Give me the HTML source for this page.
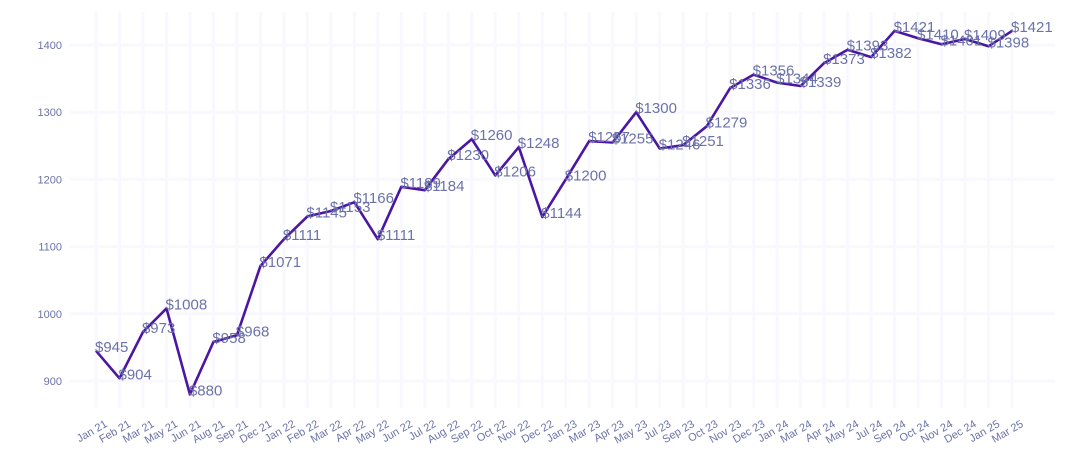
<!DOCTYPE html>
<html><head><meta charset="utf-8"><style>
body{margin:0;background:#fff;}
svg{display:block;font-family:"Liberation Sans",sans-serif;}
</style></head><body>
<svg id="chart" width="1070" height="465" xmlns="http://www.w3.org/2000/svg">
<g id="grid"></g>
<g id="yaxis"></g>
<g id="xaxis"></g>
<g id="series"></g>
</svg>
<script>
const categories=["Jan 21","Feb 21","Mar 21","May 21","Jun 21","Aug 21","Sep 21","Dec 21","Jan 22","Feb 22","Mar 22","Apr 22","May 22","Jun 22","Jul 22","Aug 22","Sep 22","Oct 22","Nov 22","Dec 22","Jan 23","Mar 23","Apr 23","May 23","Jul 23","Sep 23","Oct 23","Nov 23","Dec 23","Jan 24","Mar 24","Apr 24","May 24","Jul 24","Sep 24","Oct 24","Nov 24","Dec 24","Jan 25","Mar 25"];
const values=[945,904,973,1008,880,958,968,1071,1111,1145,1153,1166,1111,1189,1184,1230,1260,1206,1248,1144,1200,1257,1255,1300,1246,1251,1279,1336,1356,1344,1339,1373,1393,1382,1421,1410,1401,1409,1398,1421];
const yTicks=[900,1000,1100,1200,1300,1400];
const NS="http://www.w3.org/2000/svg";
const x0=96,x1=1012;
function xs(i){return x0+(x1-x0)*i/(categories.length-1);}
function ys(v){return 381-(v-900)*0.672;}
function mk(tag,attrs,parent){const e=document.createElementNS(NS,tag);for(const k in attrs)e.setAttribute(k,attrs[k]);parent.appendChild(e);return e;}
const grid=document.getElementById('grid'),ya=document.getElementById('yaxis'),xa=document.getElementById('xaxis'),se=document.getElementById('series');
yTicks.forEach(t=>{
  const l=mk('line',{x1:70,x2:1055,y1:ys(t),y2:ys(t),stroke:'#f8f8fe','stroke-width':3},grid);
  
  
  const tx=mk('text',{x:62,y:ys(t)+4,'text-anchor':'end','font-size':11,fill:'#6b72a8'},ya);
  tx.textContent=t;
  
  
});
categories.forEach((c,i)=>{
  const l=mk('line',{x1:xs(i),x2:xs(i),y1:12,y2:408,stroke:'#f8f8fe','stroke-width':3},grid);
  
  
  const tx=mk('text',{x:0,y:0,'text-anchor':'end','font-size':11,fill:'#6b72a8',transform:`translate(${xs(i)+12},${426}) rotate(-30)`},xa);
  tx.textContent=c;
  
  
});
const d=values.map((v,i)=>(i?'L':'M')+xs(i).toFixed(1)+','+ys(v).toFixed(1)).join(' ');
const p=mk('path',{d:d,fill:'none',stroke:'#4a16a2','stroke-width':2.6,'stroke-linejoin':'round'},se);


values.forEach((v,i)=>{
  const t=mk('text',{x:xs(i)-1,y:ys(v)+1,'font-size':15,fill:'#6b72a8'},se);
  t.textContent='$'+v;
  
  
});
</script>
</body></html>
